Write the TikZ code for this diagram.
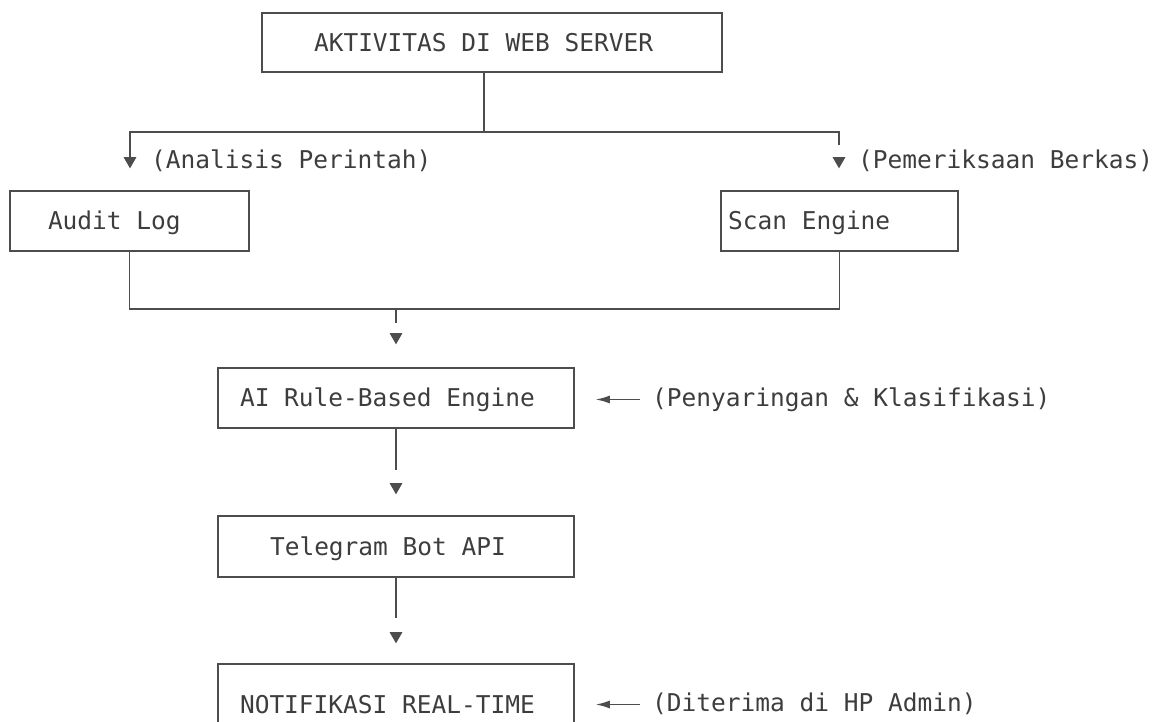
\documentclass[tikz,border=0pt]{standalone}
\usepackage{fontspec}
\usetikzlibrary{shapes.geometric,arrows.meta}
\newfontfamily\monofam{DejaVu Sans Mono}
\definecolor{linegray}{HTML}{4D4D4D}
\definecolor{textgray}{HTML}{3D3D3D}
% a text line of fixed width, set flush left
\newcommand\boxline[2]{\makebox[#1][l]{#2}}
\begin{document}
\begin{tikzpicture}[x=1pt,y=-1pt,
  every node/.style={font=\monofam\fontsize{24.5}{28}\selectfont, text=textgray},
  wire/.style={draw=linegray, line width=1.5pt},
  box/.style={wire, rectangle, inner ysep=0pt,
    text height=18pt, text depth=1pt},
  note/.style={inner sep=0pt, anchor=base west, text height=18pt, text depth=5pt},
  tri/.style={regular polygon, regular polygon sides=3, shape border rotate=180,
    minimum size=15pt, inner sep=0pt, fill=linegray, draw=none},
  pointer/.style={wire, -{Latex[length=14pt,width=8pt]}},
]
\useasboundingbox (0,0) rectangle (1165,721);

% boxes: centre, height, left margin of text
\node[box, minimum height=59pt, inner xsep=52pt] (web) at (492,42.5) {\boxline{356pt}{AKTIVITAS DI WEB SERVER}};
\node[box, minimum height=60pt, inner xsep=38pt] (audit) at (129.5,221) {\boxline{163pt}{Audit Log}};
\node[box, minimum height=60pt, inner xsep=7pt] (scan) at (839.5,221) {\boxline{223pt}{Scan Engine}};
\node[box, minimum height=60pt, inner xsep=22pt] (ai) at (396,398) {\boxline{312pt}{AI Rule-Based Engine}};
\node[box, minimum height=61pt, inner xsep=52pt] (tele) at (396,546.5) {\boxline{252pt}{Telegram Bot API}};
\node[box, minimum height=81pt, inner xsep=22pt] (notif) at (396,704.5) {\boxline{312pt}{NOTIFIKASI REAL-TIME}};

% down-pointing markers
\node[tri] (triL) at (130,160.8) {};
\node[tri] (triR) at (839,160.8) {};
\node[tri] (triM) at (396,336.8) {};
\node[tri] (triT) at (396,486.8) {};
\node[tri] (triN) at (396,635.8) {};

% side notes
\node[note] (nAnalisis) at (151,168) {(Analisis Perintah)};
\node[note] (nPeriksa) at (858,168) {(Pemeriksaan Berkas)};
\node[note] (nSaring) at (652,406) {(Penyaringan \& Klasifikasi)};
\node[note] (nTerima) at (652,711) {(Diterima di HP Admin)};

% split below the web server
\coordinate (split) at (484,132);
\coordinate (splitL) at (130,132);
\coordinate (splitR) at (839,132);
\draw[wire] (split |- web.south) -- (split);
\draw[wire, shorten >=12pt] (triL.north) -- (splitL) -- (splitR) -- (triR.north);

% merge of both sources
\coordinate (mergeL) at (audit.south |- 0,309);
\coordinate (mergeR) at (scan.south |- 0,309);
\coordinate (mergeC) at (396,309);
\draw[wire] (audit.south) -- (mergeL) -- (mergeR) -- (scan.south);
\draw[wire, shorten >=10pt] (mergeC) -- (triM.north);

% main chain
\draw[wire, shorten >=13pt] (ai.south) -- (triT.north);
\draw[wire, shorten >=14pt] (tele.south) -- (triN.north);

% notes pointing at boxes
\draw[pointer, shorten <=12pt, shorten >=21pt] (nSaring.west) -- (nSaring.west -| ai.east);
\draw[pointer, shorten <=12pt, shorten >=21pt] (nTerima.west) -- (nTerima.west -| notif.east);
\end{tikzpicture}
\end{document}
